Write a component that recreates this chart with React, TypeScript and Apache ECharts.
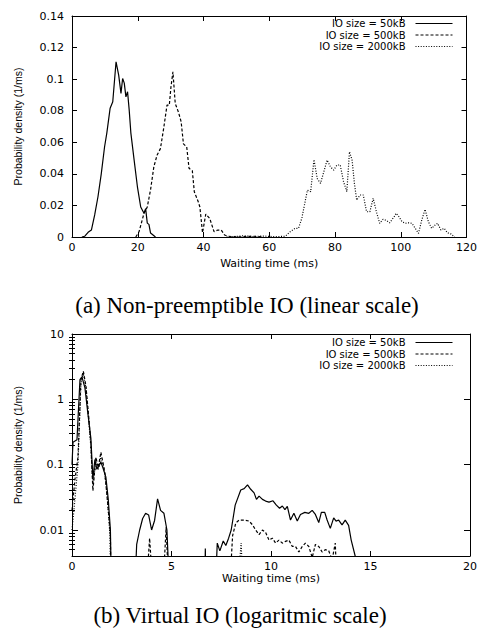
import React, { useEffect, useRef } from 'react';
import * as echarts from 'echarts';

const seriesNames = ['IO size = 50kB', 'IO size = 500kB', 'IO size = 2000kB'];
const captionA = '(a) Non-preemptible IO (linear scale)';
const captionB = '(b) Virtual IO (logaritmic scale)';
const xName = 'Waiting time (ms)';
const yName = 'Probability density (1/ms)';
const logMajorTicks = [0.01, 0.1, 1, 10];
const logMinorTicks = [
  0.005, 0.006, 0.007, 0.008, 0.009,
  0.02, 0.03, 0.04, 0.05, 0.06, 0.07, 0.08, 0.09,
  0.2, 0.3, 0.4, 0.5, 0.6, 0.7, 0.8, 0.9,
  2, 3, 4, 5, 6, 7, 8, 9,
];

// (a) linear scale: [waiting time ms, density]
const linear50 = [
  [3, 0], [3.9, 0.0005], [4.9, 0.003], [5.9, 0.0044], [6.9, 0.014], [7.9, 0.0255], [8.9, 0.04],
  [9.9, 0.057], [10.6, 0.066], [11.6, 0.0816], [12.4, 0.0857], [13.4, 0.111], [14.2, 0.1025],
  [14.9, 0.091], [15.4, 0.1004], [15.9, 0.0975], [16.4, 0.0888], [16.9, 0.092], [17.4, 0.0804],
  [17.9, 0.066], [18.9, 0.0487], [19.9, 0.0318], [20.9, 0.019], [21.9, 0.015], [22.4, 0.018],
  [22.9, 0.0088], [23.4, 0.008], [23.9, 0.0025], [25.4, 0],
];
const linear500 = [
  [19.4, 0], [20.4, 0.0034], [21.9, 0.015], [22.9, 0.019], [23.9, 0.03], [24.9, 0.0445],
  [25.9, 0.052], [26.9, 0.056], [27.9, 0.069], [28.9, 0.0835], [29.6, 0.0835], [30.1, 0.095],
  [30.7, 0.1046], [31.4, 0.0846], [32.4, 0.079], [33.2, 0.073], [33.9, 0.059], [34.9, 0.057],
  [35.6, 0.0435], [36.6, 0.042], [37.2, 0.0287], [38.4, 0.0223], [38.9, 0.019], [39.7, 0.0027],
  [40.7, 0.0145], [41.9, 0.0118], [43.2, 0.0034], [44.4, 0.0044], [45.4, 0.0044], [46.4, 0.0013],
  [47.4, 0.0005], [50.4, 0], [55, 0.0005], [58, 0],
];
const linear2000 = [
  [47, 0], [50, 0.0004], [52, 0.0008], [55, 0.0003], [58, 0.0006], [62, 0.0002], [64.9, 0.0005],
  [66.4, 0.0034], [67.9, 0.0055], [68.9, 0.0055], [69.9, 0.0118], [70.9, 0.0223], [71.6, 0.0297],
  [72.6, 0.0287], [73.6, 0.049], [74.6, 0.037], [75.6, 0.034], [76.6, 0.0413], [77.6, 0.0487],
  [78.6, 0.0445], [79.6, 0.0424], [80.6, 0.0456], [81.6, 0.0456], [82.6, 0.035], [83.6, 0.0287],
  [84.4, 0.054], [85.2, 0.0487], [85.9, 0.034], [86.6, 0.0234], [87.6, 0.0266], [88.6, 0.0266],
  [89.6, 0.016], [90.6, 0.016], [91.6, 0.0245], [92.6, 0.016], [93.6, 0.0087], [94.6, 0.0112],
  [95.6, 0.0105], [96.6, 0.009], [97.9, 0.0125], [98.6, 0.015], [99.4, 0.013], [100.4, 0.0097],
  [101.4, 0.0087], [102.4, 0.009], [103.4, 0.0087], [104.4, 0.0055], [105.4, 0.0023],
  [106.4, 0.0108], [107.4, 0.0175], [108.4, 0.0097], [109.4, 0.0055], [110.4, 0.0075],
  [111.2, 0.0087], [112.2, 0.0045], [113.2, 0.0055], [114.2, 0.0027], [115.2, 0.002], [116.4, 0],
];

// (b) logarithmic scale: [waiting time ms, density]
const log50 = [
  [0, 0.1], [0.05, 0.22], [0.25, 0.24], [0.4, 2.0], [0.5, 2.2], [0.65, 1.5], [0.8, 0.6],
  [0.95, 0.25], [1.05, 0.06], [1.15, 0.12], [1.25, 0.085], [1.35, 0.095], [1.45, 0.11],
  [1.55, 0.09], [1.7, 0.065], [1.82, 0.03], [1.93, 0.01], [2.0, 0.0005], [3.1, 0.0005],
  [3.25, 0.006], [3.4, 0.01], [3.55, 0.015], [3.7, 0.018], [3.85, 0.017], [4.0, 0.01],
  [4.15, 0.014], [4.3, 0.03], [4.45, 0.02], [4.62, 0.018], [4.77, 0.01], [4.95, 0.0005],
  [6.65, 0.0005], [6.7, 0.0052], [6.75, 0.0005], [7.15, 0.0005], [7.3, 0.0063], [7.43, 0.0048],
  [7.6, 0.0068], [7.73, 0.0058], [7.87, 0.0075], [8.0, 0.01], [8.2, 0.024], [8.48, 0.041],
  [8.65, 0.043], [8.82, 0.049], [8.98, 0.042], [9.15, 0.037], [9.27, 0.0294], [9.4, 0.033],
  [9.57, 0.0294], [9.73, 0.0277], [9.9, 0.0267], [10.1, 0.028], [10.27, 0.024], [10.43, 0.0215],
  [10.57, 0.0233], [10.7, 0.0205], [10.82, 0.023], [10.98, 0.0142], [11.15, 0.018],
  [11.32, 0.0137], [11.48, 0.0173], [11.7, 0.0186], [11.9, 0.018], [12.07, 0.02], [12.23, 0.0173],
  [12.4, 0.013], [12.53, 0.0186], [12.7, 0.0186], [12.82, 0.0142], [12.98, 0.0106],
  [13.15, 0.0153], [13.27, 0.0137], [13.4, 0.0142], [13.57, 0.012], [13.73, 0.0142],
  [13.9, 0.0118], [14.03, 0.007], [14.23, 0.004], [14.4, 0.0005],
];
const log500 = [
  [0, 0.02], [0.15, 0.06], [0.3, 0.13], [0.45, 2.0], [0.57, 2.7], [0.7, 1.6], [0.85, 0.5],
  [0.95, 0.2], [1.05, 0.04], [1.2, 0.13], [1.32, 0.09], [1.45, 0.155], [1.55, 0.11],
  [1.65, 0.075], [1.82, 0.021], [1.93, 0.0082], [1.98, 0.0005], [3.65, 0.0005], [3.9, 0.0075],
  [4.15, 0.0005], [4.5, 0.0005], [4.73, 0.011], [4.92, 0.0005], [7.85, 0.0005], [8.07, 0.0082],
  [8.23, 0.0128], [8.4, 0.0142], [8.65, 0.0142], [8.9, 0.0137], [9.07, 0.012], [9.23, 0.01],
  [9.4, 0.0085], [9.57, 0.01], [9.73, 0.0092], [9.9, 0.007], [10.07, 0.0075], [10.23, 0.0063],
  [10.4, 0.007], [10.57, 0.0063], [10.73, 0.0067], [10.9, 0.007], [11.07, 0.0056],
  [11.23, 0.0056], [11.4, 0.0046], [11.57, 0.0056], [11.73, 0.0063], [11.9, 0.0056],
  [12.07, 0.0038], [12.23, 0.006], [12.4, 0.0056], [12.57, 0.0046], [12.73, 0.005],
  [12.9, 0.0048], [13.07, 0.0035], [13.23, 0.0063], [13.37, 0.0005],
];
const log2000 = [
  [0, 0.01], [0.15, 0.03], [0.3, 0.1], [0.45, 1.8], [0.57, 2.5], [0.7, 1.5], [0.85, 0.45],
  [0.95, 0.18], [1.05, 0.05], [1.2, 0.11], [1.32, 0.085], [1.45, 0.13], [1.6, 0.09],
  [1.75, 0.04], [1.9, 0.009], [1.97, 0.0005], [8.2, 0.0005], [8.5, 0.0063], [8.65, 0.0005],
];

const linearData = [linear50, linear500, linear2000];
const logData = [log50, log500, log2000];
const dashTypes: any[] = ['solid', [3, 2], [1, 1.6]];

const tickFont = { fontFamily: 'DejaVu Sans', fontSize: 11, color: '#000' };
const black = { color: '#000', width: 1 };

function frameAxis(extra: any) {
  return {
    axisLine: { show: true, onZero: false, lineStyle: black },
    axisTick: { show: true, inside: true, length: 5, lineStyle: black },
    splitLine: { show: false },
    ...extra,
  };
}

export default function App() {
  const ref = useRef<HTMLDivElement>(null);
  useEffect(() => {
    if (!ref.current) return;
    const chart = echarts.init(ref.current, undefined, { renderer: 'svg' });
    const legendTopsA = [18.5, 30, 41.5];
    const legendTopsB = [337.5, 349, 360.5];
    const legends: any[] = [];
    [legendTopsA, legendTopsB].forEach((tops) => {
      seriesNames.forEach((n, i) => {
        legends.push({
          data: [n],
          orient: 'horizontal',
          right: 27,
          top: tops[i],
          align: 'right',
          itemWidth: 37,
          itemHeight: 10,
          padding: 0,
          selectedMode: false,
          itemStyle: { opacity: 0 },
          lineStyle: { width: 1 },
          textStyle: { fontFamily: 'DejaVu Sans', fontSize: 10, color: '#000', lineHeight: 10, padding: [0, 5, 0, 0] },
        });
      });
    });
    const logFmt = (v: number) => (v < 0.009 ? '' : String(Number(v.toPrecision(2))));
    const option: any = {
      animation: false,
      backgroundColor: '#fff',
      grid: [
        { left: 72, top: 16, width: 400, height: 221, containLabel: false },
        { left: 72, top: 334, width: 400, height: 222, containLabel: false },
      ],
      legend: legends,
      xAxis: [
        frameAxis({
          gridIndex: 0, type: 'value', min: 0, max: 120, interval: 20, position: 'bottom',
          axisLabel: { ...tickFont, margin: 5 },
          name: xName, nameLocation: 'middle', nameGap: 21, nameTextStyle: tickFont,
        }),
        frameAxis({ gridIndex: 0, type: 'value', min: 0, max: 120, interval: 20, position: 'top', axisLabel: { show: false } }),
        frameAxis({
          gridIndex: 1, type: 'value', min: 0, max: 20, interval: 5, position: 'bottom',
          axisLabel: { ...tickFont, margin: 5 },
          name: xName, nameLocation: 'middle', nameGap: 16, nameTextStyle: tickFont,
        }),
        frameAxis({ gridIndex: 1, type: 'value', min: 0, max: 20, interval: 5, position: 'top', axisLabel: { show: false } }),
      ],
      yAxis: [
        frameAxis({
          gridIndex: 0, type: 'value', min: 0, max: 0.14, interval: 0.02, position: 'left',
          axisLabel: { ...tickFont, margin: 8 },
          name: yName, nameLocation: 'middle', nameGap: 49,
          nameTextStyle: { fontFamily: 'Liberation Sans', fontSize: 10.5, color: '#000' },
        }),
        frameAxis({ gridIndex: 0, type: 'value', min: 0, max: 0.14, interval: 0.02, position: 'right', axisLabel: { show: false } }),
        frameAxis({
          gridIndex: 1, type: 'log', logBase: 10, min: 0.004, max: 10, position: 'left',
          axisTick: { show: true, inside: true, length: 6, lineStyle: black, customValues: logMajorTicks },
          axisLabel: { ...tickFont, margin: 8, formatter: logFmt, customValues: logMajorTicks },
          name: yName, nameLocation: 'middle', nameGap: 49,
          nameTextStyle: { fontFamily: 'Liberation Sans', fontSize: 10.5, color: '#000' },
        }),
        frameAxis({
          gridIndex: 1, type: 'log', logBase: 10, min: 0.004, max: 10, position: 'right',
          axisTick: { show: true, inside: true, length: 6, lineStyle: black, customValues: logMajorTicks },
          axisLabel: { show: false },
        }),
        frameAxis({
          gridIndex: 1, type: 'log', logBase: 10, min: 0.004, max: 10, position: 'left',
          axisLine: { show: false },
          axisTick: { show: true, inside: true, length: 3, lineStyle: black, customValues: logMinorTicks },
          axisLabel: { show: false },
        }),
        frameAxis({
          gridIndex: 1, type: 'log', logBase: 10, min: 0.004, max: 10, position: 'right',
          axisLine: { show: false },
          axisTick: { show: true, inside: true, length: 3, lineStyle: black, customValues: logMinorTicks },
          axisLabel: { show: false },
        }),
      ],
      series: [
        ...linearData.map((d, i) => ({
          name: seriesNames[i], type: 'line', xAxisIndex: 0, yAxisIndex: 0, data: d,
          symbol: 'none', showSymbol: false, clip: true,
          lineStyle: { color: '#000', width: 1.2, type: dashTypes[i] },
          itemStyle: { color: '#000' },
        })),
        ...logData.map((d, i) => ({
          name: seriesNames[i], type: 'line', xAxisIndex: 2, yAxisIndex: 2, data: d,
          symbol: 'none', showSymbol: false, clip: true,
          lineStyle: { color: '#000', width: 1.2, type: dashTypes[i] },
          itemStyle: { color: '#000' },
        })),
      ],
      graphic: [
        {
          type: 'text', x: 247, y: 305,
          style: {
            text: captionA, fontFamily: 'Liberation Serif', fontSize: 23, fill: '#000',
            align: 'center', verticalAlign: 'middle', textAlign: 'center', textVerticalAlign: 'middle',
          },
        },
        {
          type: 'text', x: 240, y: 615,
          style: {
            text: captionB, fontFamily: 'Liberation Serif', fontSize: 23, fill: '#000',
            align: 'center', verticalAlign: 'middle', textAlign: 'center', textVerticalAlign: 'middle',
          },
        },
      ],
    };
    chart.setOption(option);
    return () => chart.dispose();
  }, []);
  return (
    <div
      ref={ref}
      style={{ position: 'absolute', left: 0, top: 0, width: 480, height: 633, background: '#fff' }}
    />
  );
}
